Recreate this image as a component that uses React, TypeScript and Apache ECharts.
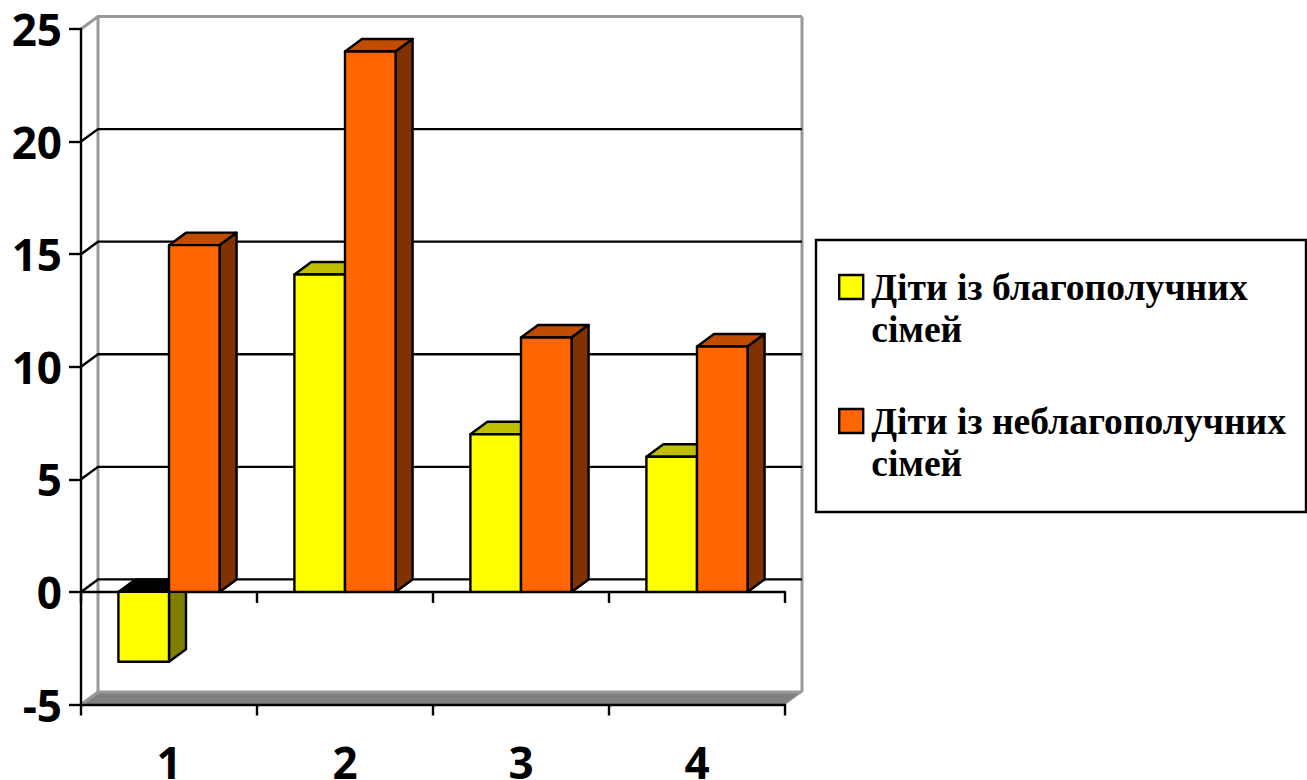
import React, { useEffect, useRef } from "react";
import * as echarts from "echarts";

const categories = ["1", "2", "3", "4"];
const yTicks = [-5, 0, 5, 10, 15, 20, 25];
const wellOffName = "Діти із благополучних сімей";
const wellOffValues = [-3.1, 14.1, 7, 6];
const troubledName = "Діти із неблагополучних сімей";
const troubledValues = [15.4, 24, 11.3, 10.9];
const legendLines: Record<string, string[]> = {
  [wellOffName]: ["Діти із благополучних", "сімей"],
  [troubledName]: ["Діти із неблагополучних", "сімей"],
};

const DX = 17;
const DY = -12.5;
const BAR_RATIO = 0.2875;
const AXIS_FONT = "'Open Sans'";
const LINE = { stroke: "#000", lineWidth: 2.4, lineJoin: "round" as const };
const WALL = "#999999";

const barRenderer =
  (front: string, top: string, side: string, slot: number) => (_p: any, api: any) => {
    const cat = api.value(0);
    const val = api.value(1);
    const center = api.coord([cat, 0])[0];
    const base = api.coord([cat, 0])[1];
    const y = api.coord([cat, val])[1];
    const w = api.size([1, 0])[0] * BAR_RATIO;
    const x0 = center + slot * w;
    const x1 = x0 + w;
    const up = Math.min(y, base);
    const down = Math.max(y, base);
    const topFill = val < 0 ? "#000000" : top;
    return {
      type: "group",
      children: [
        {
          type: "polygon",
          shape: { points: [[x0, up], [x0 + DX, up + DY], [x1 + DX, up + DY], [x1, up]] },
          style: { ...LINE, fill: topFill },
        },
        {
          type: "polygon",
          shape: { points: [[x1, up], [x1 + DX, up + DY], [x1 + DX, down + DY], [x1, down]] },
          style: { ...LINE, fill: side },
        },
        {
          type: "rect",
          shape: { x: x0, y: up, width: w, height: down - up },
          style: { ...LINE, fill: front },
        },
      ],
    };
  };

const wallRenderer = (params: any, api: any) => {
  const c = params.coordSys;
  const tick = api.value(1);
  const y = api.coord([0, tick])[1];
  const left = c.x;
  const right = c.x + c.width;
  const extreme = tick === yTicks[0] || tick === yTicks[yTicks.length - 1];
  const stroke = extreme ? WALL : "#000";
  const children: any[] = [
    {
      type: "polyline",
      shape: { points: [[left, y], [left + DX, y + DY], [right + DX, y + DY]] },
      style: { stroke, lineWidth: extreme ? 3 : 2.4, fill: "none" },
    },
  ];
  if (tick === yTicks[0]) {
    children.unshift({
      type: "polygon",
      shape: {
        points: [[left, y], [left + DX, y + DY], [right + DX, y + DY], [right, y]],
      },
      style: { fill: "#808080", stroke: WALL, lineWidth: 1 },
    });
    const topY = api.coord([0, yTicks[yTicks.length - 1]])[1] + DY;
    children.push(
      {
        type: "line",
        shape: { x1: left + DX, y1: topY, x2: left + DX, y2: y + DY },
        style: { stroke: WALL, lineWidth: 3 },
      },
      {
        type: "line",
        shape: { x1: right + DX, y1: topY, x2: right + DX, y2: y + DY },
        style: { stroke: WALL, lineWidth: 3 },
      }
    );
  }
  return { type: "group", children };
};

export default function App() {
  const ref = useRef<HTMLDivElement>(null);
  useEffect(() => {
    document.body.style.margin = "0";
    const chart = echarts.init(ref.current!, undefined, { renderer: "svg" });
    const axisLine = { lineStyle: { color: "#000", width: 2.4 } };
    const axisTick = { show: true, length: 11, lineStyle: { color: "#000", width: 2.4 } };
    chart.setOption({
      animation: false,
      backgroundColor: "#fff",
      grid: { left: 81, right: 522, top: 29, bottom: 75.5, outerBoundsMode: "none" },
      xAxis: [
        {
          type: "category",
          data: categories,
          position: "bottom",
          z: 1,
          axisLine: { ...axisLine, onZero: true },
          axisTick,
          axisLabel: { show: false },
        },
        {
          type: "category",
          data: categories,
          position: "bottom",
          z: 1,
          axisLine: { ...axisLine, onZero: false },
          axisTick,
          axisLabel: {
            margin: 42,
            color: "#000",
            fontFamily: AXIS_FONT,
            fontWeight: "bold",
            fontSize: 44,
            lineHeight: 30,
          },
        },
      ],
      yAxis: {
        type: "value",
        min: -5,
        max: 25,
        interval: 5,
        z: 1,
        axisLine: { show: true, onZero: false, ...axisLine },
        axisTick: { ...axisTick, length: 12 },
        axisLabel: {
          margin: 19,
          color: "#000",
          fontFamily: AXIS_FONT,
          fontWeight: "bold",
          fontSize: 44,
        },
        splitLine: { show: false },
      },
      legend: {
        left: 833,
        top: 219,
        orient: "vertical",
        itemWidth: 24,
        itemHeight: 24,
        itemGap: 8,
        icon: "rect",
        data: [wellOffName, troubledName],
        itemStyle: { borderColor: "#000", borderWidth: 2.4 },
        formatter: (name: string) => "\n" + legendLines[name].join("\n"),
        textStyle: {
          color: "#000",
          fontFamily: "'Liberation Serif'",
          fontWeight: "bold",
          fontSize: 37.6,
          lineHeight: 42,
          padding: [0, 0, 0, 3],
        },
      },
      graphic: [
        {
          type: "rect",
          z: -1,
          shape: { x: 816, y: 240, width: 490, height: 272 },
          style: { fill: "#fff", stroke: "#000", lineWidth: 2.4 },
        },
      ],
      series: [
        {
          type: "custom",
          name: "walls",
          z: 0,
          renderItem: wallRenderer,
          data: yTicks.map((t) => [0, t]),
          encode: { x: 0, y: 1 },
        },
        {
          type: "custom",
          name: wellOffName,
          z: 2,
          itemStyle: { color: "#ffff00" },
          renderItem: barRenderer("#ffff00", "#bfbf00", "#808000", -1),
          data: wellOffValues.map((v, i) => [i, v]),
          encode: { x: 0, y: 1 },
        },
        {
          type: "custom",
          name: troubledName,
          z: 3,
          itemStyle: { color: "#ff6600" },
          renderItem: barRenderer("#ff6600", "#bf4d00", "#803300", 0),
          data: troubledValues.map((v, i) => [i, v]),
          encode: { x: 0, y: 1 },
        },
      ],
    });
    return () => chart.dispose();
  }, []);
  return <div ref={ref} style={{ width: 1307, height: 780 }} />;
}
